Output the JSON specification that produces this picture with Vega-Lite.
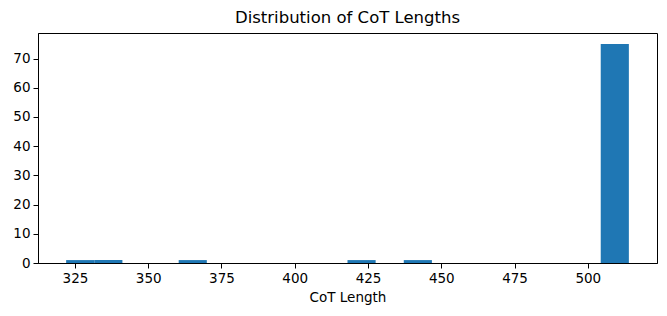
{
  "$schema": "https://vega.github.io/schema/vega-lite/v6.json",
  "width": 619,
  "height": 230,
  "autosize": "none",
  "padding": {"left": 38, "top": 33, "right": 10, "bottom": 53},
  "background": "white",
  "title": {"text": "Distribution of CoT Lengths", "font": "DejaVu Sans", "fontSize": 16.5, "fontWeight": "normal", "color": "black", "offset": 7},
  "config": {
    "view": {"stroke": "black", "strokeWidth": 1},
    "axis": {"grid": false, "domainColor": "black", "tickColor": "black", "labelColor": "black", "titleColor": "black", "labelFont": "DejaVu Sans", "titleFont": "DejaVu Sans", "labelFontSize": 13.5, "titleFontSize": 13.5, "titleFontWeight": "normal", "tickSize": 5, "labelPadding": 3}
  },
  "data": {
    "values": [
      {"bin_start": 322.0, "bin_end": 331.6, "count": 1},
      {"bin_start": 331.6, "bin_end": 341.2, "count": 1},
      {"bin_start": 341.2, "bin_end": 350.8, "count": 0},
      {"bin_start": 350.8, "bin_end": 360.4, "count": 0},
      {"bin_start": 360.4, "bin_end": 370.0, "count": 1},
      {"bin_start": 370.0, "bin_end": 379.6, "count": 0},
      {"bin_start": 379.6, "bin_end": 389.2, "count": 0},
      {"bin_start": 389.2, "bin_end": 398.8, "count": 0},
      {"bin_start": 398.8, "bin_end": 408.4, "count": 0},
      {"bin_start": 408.4, "bin_end": 418.0, "count": 0},
      {"bin_start": 418.0, "bin_end": 427.6, "count": 1},
      {"bin_start": 427.6, "bin_end": 437.2, "count": 0},
      {"bin_start": 437.2, "bin_end": 446.8, "count": 1},
      {"bin_start": 446.8, "bin_end": 456.4, "count": 0},
      {"bin_start": 456.4, "bin_end": 466.0, "count": 0},
      {"bin_start": 466.0, "bin_end": 475.6, "count": 0},
      {"bin_start": 475.6, "bin_end": 485.2, "count": 0},
      {"bin_start": 485.2, "bin_end": 494.8, "count": 0},
      {"bin_start": 494.8, "bin_end": 504.4, "count": 0},
      {"bin_start": 504.4, "bin_end": 514.0, "count": 75}
    ]
  },
  "transform": [{"filter": "datum.count > 0"}],
  "mark": {"type": "bar", "color": "#1f77b4", "binSpacing": 0, "cornerRadius": 0},
  "encoding": {
    "x": {"field": "bin_start", "type": "quantitative", "title": "CoT Length",
      "scale": {"domain": [312.4, 523.6], "nice": false, "zero": false},
      "axis": {"values": [325, 350, 375, 400, 425, 450, 475, 500], "titlePadding": 6}},
    "x2": {"field": "bin_end"},
    "y": {"field": "count", "type": "quantitative", "title": null,
      "scale": {"domain": [0, 78.75], "nice": false},
      "axis": {"values": [0, 10, 20, 30, 40, 50, 60, 70]}},
    "y2": {"datum": 0}
  }
}
